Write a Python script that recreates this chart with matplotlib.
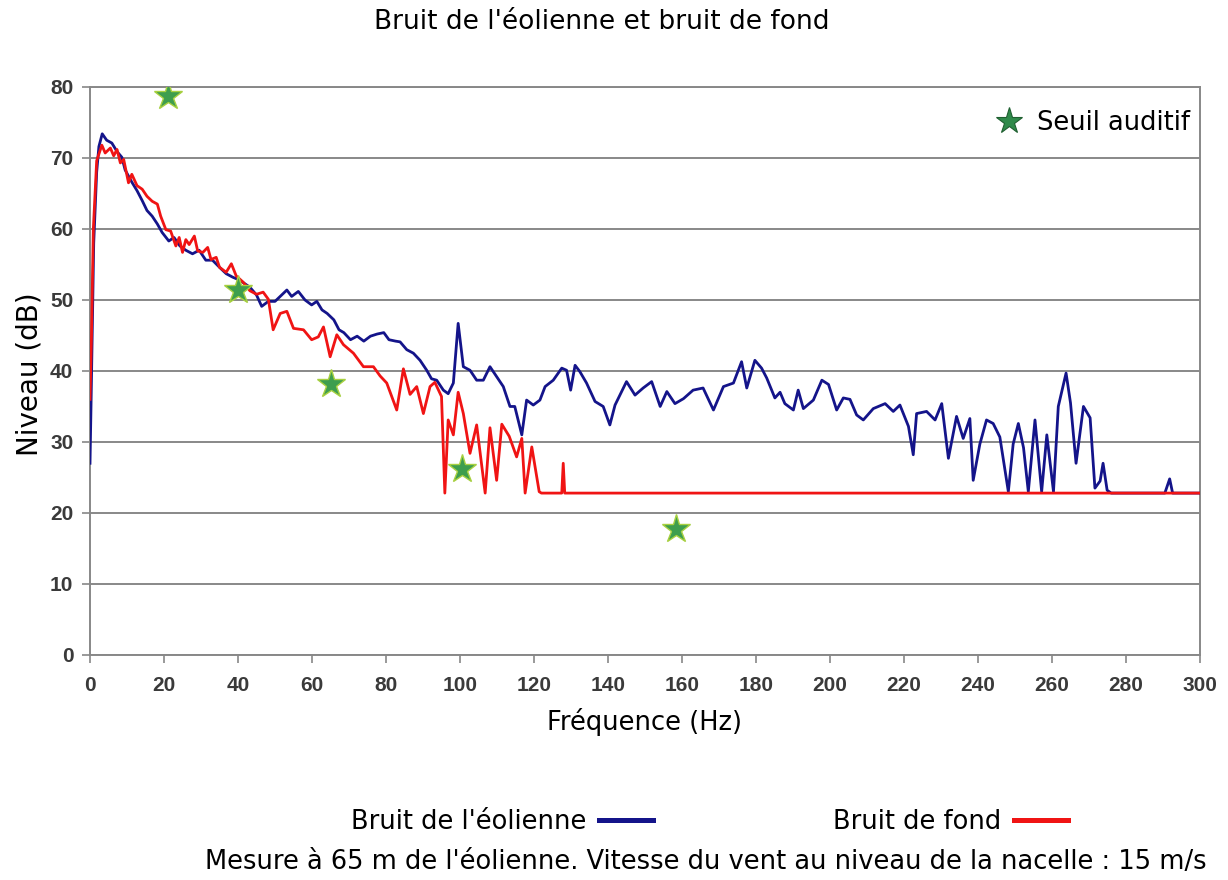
import matplotlib
matplotlib.use("Agg")
import matplotlib.pyplot as plt
from matplotlib.lines import Line2D

plt.rcParams['font.family'] = ['DejaVu Sans']

# spectre mesuré, éolienne en marche
blue_freq = [0, 0.3, 1.0, 1.8, 2.4, 3.3, 4.5, 5.9, 7.3, 8.6,
             9.5, 11.3, 12.7, 14.1, 15.4, 16.8, 18.2, 19.5, 21.3, 22.7,
             24.3, 25.9, 27.7, 29.5, 31.3, 33.1, 35.0, 36.8, 38.6, 40.4,
             41.8, 43.2, 45.0, 46.4, 48.2, 50.0, 51.4, 53.2, 54.5, 56.3,
             58.1, 59.9, 61.3, 62.7, 64.1, 65.9, 67.3, 68.6, 70.4, 72.2,
             74.0, 75.8, 77.6, 79.4, 80.8, 82.6, 83.8, 85.6, 87.4, 89.2,
             91.0, 92.3, 93.7, 95.5, 96.8, 98.2, 99.5, 100.9, 102.7, 104.5,
             106.3, 108.1, 109.9, 111.7, 113.5, 114.8, 116.7, 118.0, 119.8, 121.6,
             123.0, 125.2, 127.5, 128.8, 129.9, 131.1, 132.4, 134.2, 136.5, 138.7,
             140.5, 141.9, 145.0, 147.3, 149.5, 151.8, 154.1, 155.9, 158.1, 160.4,
             163.0, 165.7, 168.5, 171.2, 173.9, 176.1, 177.5, 179.7, 181.5, 182.9,
             185.1, 186.5, 187.8, 190.1, 191.4, 192.8, 195.5, 197.8, 199.6, 201.8,
             203.6, 205.4, 207.2, 209.0, 211.7, 214.9, 217.1, 218.9, 221.2, 222.5,
             223.4, 226.1, 228.4, 230.2, 232.0, 234.2, 236.0, 237.8, 238.7, 240.5,
             242.3, 244.1, 245.9, 248.2, 249.5, 250.9, 252.3, 253.6, 255.4, 257.2,
             258.6, 260.4, 261.7, 263.8, 265.0, 266.5, 268.5, 270.3, 271.6, 273.0,
             273.8, 274.9, 276.0, 290.5, 291.8, 292.6, 300]
blue_level = [27, 36, 58, 68, 71.6, 73.4, 72.5, 72.1, 70.9, 70.1,
              68.3, 66.6, 65.4, 64.0, 62.6, 61.8, 60.7, 59.5, 58.3, 58.8,
              57.6, 57.0, 56.5, 57.0, 55.6, 55.6, 54.6, 53.7, 53.2, 52.8,
              52.3, 51.8, 50.7, 49.1, 49.8, 49.8, 50.5, 51.4, 50.5, 51.2,
              50.0, 49.3, 49.8, 48.6, 48.1, 47.2, 45.8, 45.4, 44.4, 44.9,
              44.2, 44.9, 45.2, 45.4, 44.4, 44.2, 44.1, 43.0, 42.5, 41.5,
              40.1, 38.9, 38.7, 37.3, 36.8, 38.3, 46.7, 40.6, 40.1, 38.7,
              38.7, 40.6, 39.2, 37.8, 35.0, 35.0, 31.0, 35.9, 35.2, 35.9,
              37.8, 38.7, 40.4, 40.1, 37.3, 40.8, 39.9, 38.3, 35.7, 35.0,
              32.4, 35.2, 38.5, 36.6, 37.6, 38.5, 35.0, 37.1, 35.4, 36.1,
              37.3, 37.6, 34.5, 37.8, 38.3, 41.3, 37.6, 41.5, 40.4, 39.0,
              36.2, 37.0, 35.4, 34.5, 37.3, 34.7, 35.9, 38.7, 38.1, 34.5,
              36.2, 36.0, 33.8, 33.1, 34.7, 35.4, 34.3, 35.2, 32.2, 28.2,
              34.0, 34.3, 33.1, 35.4, 27.7, 33.6, 30.5, 33.3, 24.6, 29.7,
              33.1, 32.6, 30.7, 23.0, 29.7, 32.6, 29.2, 23.0, 33.1, 23.0,
              31.0, 23.0, 35.0, 39.7, 35.5, 27.0, 35.0, 33.4, 23.5, 24.5,
              27.0, 23.2, 22.8, 22.8, 24.8, 22.8, 22.8]

# bruit de fond, éolienne arrêtée
red_freq = [0, 0.4, 0.9, 1.8, 3.2, 4.1, 5.5, 6.4, 7.3, 8.2,
            9.1, 10.4, 11.3, 12.7, 14.1, 15.4, 16.8, 18.2, 19.1, 20.5,
            21.8, 23.2, 24.1, 25.0, 25.9, 26.8, 28.2, 29.1, 30.5, 31.8,
            32.7, 34.1, 35.0, 36.8, 38.2, 39.5, 41.4, 43.2, 45.0, 46.8,
            48.2, 49.5, 51.4, 53.2, 55.0, 57.7, 59.9, 61.7, 63.1, 64.9,
            66.7, 68.5, 71.2, 73.9, 76.6, 78.4, 80.2, 82.9, 84.7, 86.5,
            88.3, 90.1, 91.9, 93.2, 95.0, 95.9, 96.8, 98.2, 99.5, 100.9,
            102.7, 104.5, 106.8, 108.1, 109.9, 111.3, 113.3, 115.3, 116.7, 117.6,
            119.4, 121.4, 122.0, 127.5, 127.9, 128.3, 300]
red_level = [36, 45, 60, 69.6, 71.8, 70.7, 71.4, 70.3, 71.2, 69.3,
             69.8, 66.5, 67.7, 66.1, 65.6, 64.6, 63.9, 63.5, 61.8, 59.9,
             59.7, 57.6, 58.8, 56.7, 58.5, 57.8, 59.0, 56.9, 56.7, 57.4,
             55.7, 56.0, 54.6, 53.9, 55.1, 53.4, 52.5, 51.3, 50.8, 51.1,
             50.1, 45.8, 48.1, 48.4, 46.0, 45.8, 44.4, 44.8, 46.2, 42.0,
             45.1, 43.7, 42.5, 40.6, 40.6, 39.3, 38.3, 34.5, 40.3, 36.7,
             37.8, 34.0, 37.8, 38.4, 36.4, 22.8, 33.1, 31.0, 37.0, 34.0,
             28.4, 32.4, 22.8, 32.0, 24.6, 32.5, 30.8, 27.9, 30.5, 22.8,
             29.3, 23.0, 22.8, 22.8, 27.0, 22.8, 22.8]

# seuil d'audition
thr_freq = [21.1, 40.0, 65.1, 100.5, 158.4]
thr_level = [78.7, 51.4, 38.2, 26.2, 17.7]

xticks = list(range(0, 301, 20))
yticks = list(range(0, 81, 10))

fig = plt.figure(figsize=(12.28, 8.8), dpi=100)
ax = fig.add_axes([0.0733, 0.2557, 0.9039, 0.6455])

grid_col = '#888888'
ax.plot(blue_freq, blue_level, color='#14148a', lw=2.0, zorder=3)
ax.plot(red_freq, red_level, color='#f01414', lw=2.0, zorder=4)
ax.plot(thr_freq, thr_level, ls='none', marker='*', ms=21,
        markerfacecolor='#3e9e4e', markeredgecolor='#a8d040', markeredgewidth=1.0, zorder=5)

ax.set_xlim(0, 300)
ax.set_ylim(0, 80)
ax.set_xticks(xticks)
ax.set_yticks(yticks)
ax.yaxis.grid(True, color=grid_col, lw=1.4)
ax.set_axisbelow(True)
for s in ax.spines.values():
    s.set_color(grid_col)
    s.set_linewidth(1.4)
ax.tick_params(axis='both', direction='out', length=6, width=1.2, color=grid_col,
               labelcolor='#3a3a3a')
ax.tick_params(axis='x', pad=9)
ax.tick_params(axis='y', pad=6)
for lab in ax.get_xticklabels() + ax.get_yticklabels():
    lab.set_fontfamily('Liberation Sans')
    lab.set_fontweight('bold')
    lab.set_fontsize(15)

star = Line2D([], [], ls='none', marker='*', ms=20, markerfacecolor='#2f8a4a',
              markeredgecolor='#1f5f30', markeredgewidth=0.8)
ax.legend([star], ['Seuil auditif'], loc='upper right', frameon=False,
          fontsize=18.5, handletextpad=0.1, borderaxespad=0.5,
          bbox_to_anchor=(1.012, 1.0))

fig.text(0.49, 0.975, "Bruit de l'éolienne et bruit de fond", ha='center', va='center', fontsize=19)
fig.text(0.024, 0.575, 'Niveau (dB)', rotation=90, ha='center', va='center', fontsize=20)
fig.text(0.525, 0.180, 'Fréquence (Hz)', ha='center', va='center', fontsize=18.5)

h1 = Line2D([], [], color='#14148a', lw=3.6)
h2 = Line2D([], [], color='#f01414', lw=3.6)
fig.legend([h1, h2], ["Bruit de l'éolienne", 'Bruit de fond'], ncol=2, markerfirst=False,
           frameon=False, fontsize=18.5, loc='center', bbox_to_anchor=(0.578, 0.066),
           handlelength=2.1, handletextpad=0.5, columnspacing=7.0)
fig.text(0.575, 0.0205, "Mesure à 65 m de l'éolienne. Vitesse du vent au niveau de la nacelle : 15 m/s",
         ha='center', va='center', fontsize=18.5)

fig.savefig('out.png', dpi=100)
